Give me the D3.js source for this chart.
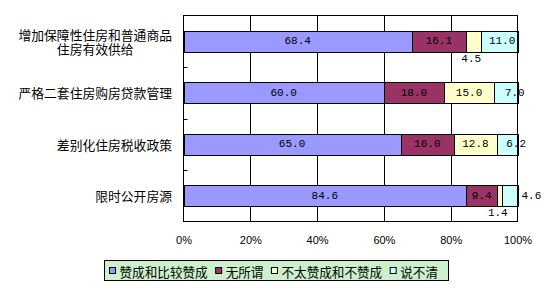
<!DOCTYPE html>
<html>
<head>
<meta charset="utf-8">
<script src="https://cdn.jsdelivr.net/npm/d3@7"></script>
<style>
  body { margin: 0; background: #fff; }
  svg { display: block; }
</style>
</head>
<body>
<div id="chart"></div>
<script>
// DATA--------------------
var categories = ["增加保障性住房和普通商品住房有效供给", "严格二套住房购房贷款管理", "差别化住房税收政策", "限时公开房源"];
var seriesNames = ["赞成和比较赞成", "无所谓", "不太赞成和不赞成", "说不清"];
var approve = [68.4, 60.0, 65.0, 84.6];
var indifferent = [16.1, 18.0, 16.0, 9.4];
var disapprove = [4.5, 15.0, 12.8, 1.4];
var unclear = [11.0, 7.0, 6.2, 4.6];
var tickValues = [0, 20, 40, 60, 80, 100];

var colors = ["#9999ff", "#993366", "#ffffcc", "#ccffff"];

// SET BOUNDARIES--------------------
var svgWidth = 556;
var svgHeight = 290;
var plot = { left: 183.5, right: 517.5, top: 15.5, bottom: 221.5 };

var svg = d3.select("#chart")
    .append("svg")
    .attr("width", svgWidth)
    .attr("height", svgHeight);

var numFont = "'Liberation Mono', 'DejaVu Sans Mono', monospace";
var cjkFont = "'Noto Sans CJK SC', sans-serif";

// scales
var x = d3.scaleLinear().domain([0, 100]).range([plot.left, plot.right]);
var y = d3.scaleBand()
    .domain(categories)
    .range([plot.top, plot.bottom])
    .paddingInner(0.6)
    .paddingOuter(0.3);

// stacked data
var rows = categories.map((c, i) => ({
    cat: c,
    values: [approve[i], indifferent[i], disapprove[i], unclear[i]]
}));
var stack = d3.stack().keys([0, 1, 2, 3]).value((d, k) => d.values[k]);
var layers = stack(rows);

// plot background + gridlines
svg.append("rect")
    .attr("x", plot.left).attr("y", plot.top)
    .attr("width", plot.right - plot.left)
    .attr("height", plot.bottom - plot.top)
    .attr("fill", "#fff");

svg.append("g").selectAll("line")
    .data(tickValues.slice(1, -1))
    .enter().append("line")
    .attr("x1", d => Math.round(x(d)) + 0.5).attr("x2", d => Math.round(x(d)) + 0.5)
    .attr("y1", plot.top).attr("y2", plot.bottom)
    .attr("stroke", "#000");

// category ticks (inside, at band boundaries)
var step = y.step();
svg.append("g").selectAll("line")
    .data(d3.range(1, categories.length))
    .enter().append("line")
    .attr("x1", plot.left).attr("x2", plot.left + 4)
    .attr("y1", d => Math.round(plot.top + d * step) + 0.5)
    .attr("y2", d => Math.round(plot.top + d * step) + 0.5)
    .attr("stroke", "#000");

// bars
var layerG = svg.append("g").selectAll("g")
    .data(layers)
    .enter().append("g")
    .attr("fill", (d, i) => colors[i]);

layerG.selectAll("rect")
    .data(d => d)
    .enter().append("rect")
    .attr("x", d => Math.round(x(d[0])) + 0.5)
    .attr("width", d => Math.round(x(d[1])) - Math.round(x(d[0])))
    .attr("y", d => Math.round(y(d.data.cat)) + 0.5)
    .attr("height", Math.round(y.bandwidth()))
    .attr("stroke", "#000");

// plot border
svg.append("rect")
    .attr("x", plot.left).attr("y", plot.top)
    .attr("width", plot.right - plot.left)
    .attr("height", plot.bottom - plot.top)
    .attr("fill", "none")
    .attr("stroke", "#000");

// value labels; small segments get nudged outside the bar like the original
function labelPlace(row, s, d) {
    var v = rows[row].values[s];
    var cx = (x(d[0]) + x(d[1])) / 2;
    var cy = y(rows[row].cat) + y.bandwidth() / 2;
    if (s === 3 && v < 5) return { x: x(100) + 4, y: cy, anchor: "start" };
    if (v < 5) return { x: cx - 2, y: cy + y.bandwidth() / 2 + 7, anchor: "middle" };
    if (s === 3 && v < 10) return { x: cx + 9, y: cy, anchor: "middle" };
    if (s === 3) return { x: cx + 3, y: cy, anchor: "middle" };
    return { x: cx, y: cy, anchor: "middle" };
}

layers.forEach((layer, s) => {
    layer.forEach((d, row) => {
        var p = labelPlace(row, s, d);
        svg.append("text")
            .attr("x", p.x)
            .attr("y", p.y)
            .attr("text-anchor", p.anchor)
            .attr("dominant-baseline", "central")
            .attr("font-family", numFont)
            .attr("font-size", "11px")
            .attr("fill", "#000")
            .text(rows[row].values[s].toFixed(1));
    });
});

// category labels, wrapped at 12 characters, block right-aligned
var catG = svg.append("g");
categories.forEach(c => {
    var lines = [];
    for (var i = 0; i < c.length; i += 12) lines.push(c.slice(i, i + 12));
    var cy = y(c) + y.bandwidth() / 2;
    var t = catG.append("text")
        .attr("font-family", cjkFont)
        .attr("font-size", "12.8px")
        .attr("fill", "#000")
        .attr("text-anchor", "middle");
    var lh = 14;
    var spans = lines.map((ln, j) => t.append("tspan")
        .attr("x", 0)
        .attr("y", cy + (j - (lines.length - 1) / 2) * lh)
        .attr("dominant-baseline", "central")
        .text(ln));
    var w = d3.max(spans, s => s.node().getComputedTextLength());
    t.selectAll("tspan").attr("x", 172 - w / 2);
});

// x axis
var bottomAxis = d3.axisBottom(x)
    .tickValues(tickValues)
    .tickFormat(d => d + "%")
    .tickSize(0)
    .tickPadding(15);

var xAxis = svg.append("g")
    .attr("transform", `translate(0, ${plot.bottom})`)
    .call(bottomAxis);
xAxis.select(".domain").remove();
xAxis.selectAll("text")
    .attr("font-family", "'Liberation Sans', Arial, sans-serif")
    .attr("font-size", "11px")
    .attr("fill", "#000");

// legend
var legend = svg.append("g");
legend.append("rect")
    .attr("x", 104.5).attr("y", 260.5)
    .attr("width", 344).attr("height", 20)
    .attr("fill", "#ccf0cc")
    .attr("stroke", "#000");

var lx = 109.5;
seriesNames.forEach((name, i) => {
    legend.append("rect")
        .attr("x", lx).attr("y", 267.5)
        .attr("width", 6).attr("height", 6)
        .attr("fill", colors[i])
        .attr("stroke", "#000");
    var t = legend.append("text")
        .attr("x", lx + 10)
        .attr("y", 271)
        .attr("dominant-baseline", "central")
        .attr("font-family", cjkFont)
        .attr("font-size", "12.6px")
        .attr("fill", "#000")
        .text(name);
    lx += 10 + t.node().getComputedTextLength() + 8;
});
</script>
</body>
</html>
